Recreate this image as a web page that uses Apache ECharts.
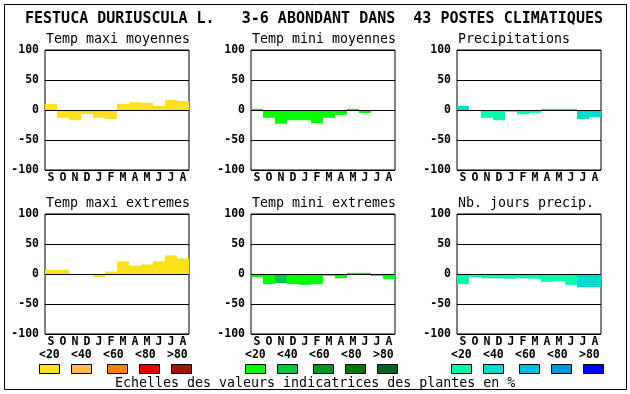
<!DOCTYPE html>
<html><head><meta charset="utf-8">
<script src="https://cdn.jsdelivr.net/npm/echarts@6/dist/echarts.min.js"></script>
<style>html,body{margin:0;padding:0;background:#fff}#c{width:630px;height:394px}</style>
</head><body><div id="c"></div>
<script>
// ---- data ----
const months = ['S','O','N','D','J','F','M','A','M','J','J','A'];
const mainTitle = 'FESTUCA DURIUSCULA L.   3-6 ABONDANT DANS  43 POSTES CLIMATIQUES';
const footer = 'Echelles des valeurs indicatrices des plantes en %';
const scaleLabels = ['<20','<40','<60','<80','>80'];
const yTicks = [-100, -50, 0, 50, 100];

const panelTitles = ['Temp maxi moyennes','Temp mini moyennes','Precipitations',
                     'Temp maxi extremes','Temp mini extremes','Nb. jours precip.'];

const tmaxMoy    = [10,-13,-17,-7,-13,-15,10,13,12,7,17,15];
const tmaxMoyCls = [0,0,0,0,0,0,0,0,0,0,0,0];
const tminMoy    = [2,-13,-23,-17,-17,-22,-13,-8,2,-5,0,0];
const tminMoyCls = [0,0,0,0,0,0,0,0,0,0,0,0];
const precip     = [7,0,-13,-17,-3,-7,-5,2,2,2,-15,-12];
const precipCls  = [1,0,0,0,0,0,0,0,0,0,1,1];
const tmaxExt    = [7,7,0,0,-5,4,21,14,16,21,31,26];
const tmaxExtCls = [0,0,0,0,0,0,0,0,0,0,0,0];
const tminExt    = [-5,-17,-15,-17,-18,-17,-3,-7,2,2,-3,-8];
const tminExtCls = [0,0,1,0,0,0,0,0,0,0,0,0];
const nbJours    = [-17,-5,-7,-7,-8,-7,-8,-13,-12,-18,-22,-22];
const nbJoursCls = [0,0,0,0,0,0,0,0,0,0,1,1];

const yellowScale = ['#f9e11b','#ffbf50','#ff8000','#e80000','#aa1000'];
const greenScale  = ['#00ff00','#00c83c','#009628','#007800','#006420'];
const blueScale   = ['#00ffaa','#00dccc','#00bce0','#0096e6','#0000ff'];

// ---- layout ----
const colLeft = [45, 251, 457];
const rowTop = [50, 214];
const gw = 144, gh = 120;
const panelVals = [tmaxMoy, tminMoy, precip, tmaxExt, tminExt, nbJours];
const panelCls = [tmaxMoyCls, tminMoyCls, precipCls, tmaxExtCls, tminExtCls, nbJoursCls];
const panelScale = [yellowScale, greenScale, blueScale, yellowScale, greenScale, blueScale];

const mono = '"DejaVu Sans Mono", monospace';
const grids = [], xAxes = [], yAxes = [], series = [], graphics = [];

for (let i = 0; i < 6; i++) {
  const r = Math.floor(i / 3), c = i % 3;
  grids.push({left: colLeft[c], top: rowTop[r], width: gw, height: gh,
    show: true, borderColor: '#000', borderWidth: 1, backgroundColor: '#fff'});
  xAxes.push({type: 'category', gridIndex: i, data: months, boundaryGap: true,
    axisLine: {show: false}, axisTick: {show: false}, splitLine: {show: false},
    axisLabel: {interval: 0, margin: 2, color: '#000', fontFamily: mono, fontWeight: 'bold', fontSize: 11.5}});
  yAxes.push({type: 'value', gridIndex: i, min: yTicks[0], max: yTicks[yTicks.length-1], interval: 50,
    axisLine: {show: false}, axisTick: {show: false},
    splitLine: {show: true, lineStyle: {color: '#000', width: 1}},
    axisLabel: {margin: 6, color: '#000', fontFamily: mono, fontWeight: 'bold', fontSize: 11.5}});
  const sc = panelScale[i];
  series.push({type: 'bar', xAxisIndex: i, yAxisIndex: i, barCategoryGap: '0%', barWidth: '100%',
    data: panelVals[i].map((v, k) => ({value: v, itemStyle: {color: sc[panelCls[i][k]]}})),
    silent: true, animation: false,
    markLine: {silent: true, symbol: 'none', label: {show: false},
      lineStyle: {color: '#000', width: 1, type: 'solid'}, data: [{yAxis: 0}]}});
  graphics.push({type: 'text', left: colLeft[c] + 1, top: rowTop[r] - 17,
    style: {text: panelTitles[i], font: '13.3px ' + mono, fill: '#000'}});
}

// legend scales
const groupX = [39, 245, 451];
const swatchOff = [0, 32, 68, 100, 132];
const groupScales = [yellowScale, greenScale, blueScale];
for (let g = 0; g < 3; g++) {
  for (let k = 0; k < 5; k++) {
    graphics.push({type: 'text', left: groupX[g] + 32 * k, top: 349,
      style: {text: scaleLabels[k], font: 'bold 11.5px ' + mono, fill: '#000'}});
    graphics.push({type: 'rect', shape: {x: groupX[g] + swatchOff[k] + 0.5, y: 364.5, width: 20, height: 9},
      style: {fill: groupScales[g][k], stroke: '#000', lineWidth: 1}});
  }
}
graphics.push({type: 'text', left: 115, top: 377,
  style: {text: footer, font: '13.3px ' + mono, fill: '#000'}});
graphics.push({type: 'text', left: 25, top: 12,
  style: {text: mainTitle, font: 'bold 15px ' + mono, fill: '#000'}});
graphics.push({type: 'rect', z: -1, shape: {x: 4.5, y: 4.5, width: 622, height: 385},
  style: {fill: 'none', stroke: '#000', lineWidth: 1}});

const chart = echarts.init(document.getElementById('c'), null, {renderer: 'canvas'});
chart.setOption({animation: false, grid: grids, xAxis: xAxes, yAxis: yAxes, series: series, graphic: graphics});
</script></body></html>
